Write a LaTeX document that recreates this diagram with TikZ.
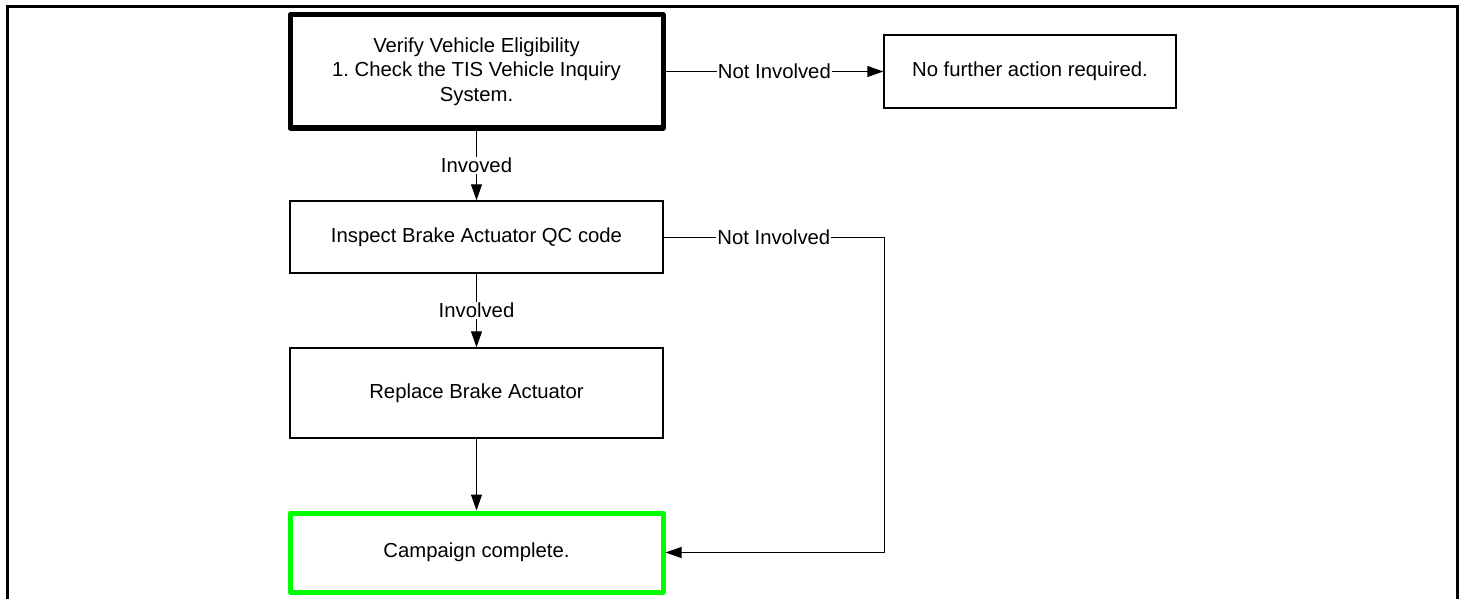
\documentclass[tikz,border=0pt]{standalone}
\usepackage{fontspec}
\setmainfont{Liberation Sans}
\usetikzlibrary{arrows.meta}
\tikzset{
  box/.style={draw=black, line width=1.4pt, fill=white, align=center, inner sep=0pt,
    minimum width=373pt, font=\fontsize{20.3}{24.5}\selectfont},
  startbox/.style={box, line width=5pt, line join=round},
  endbox/.style={box, draw={rgb,255:red,0;green,255;blue,0}, line width=5pt, line join=round},
  arr/.style={draw=black, line width=1pt, -{Triangle[length=16pt,width=11pt]}},
  lbl/.style={fill=white, inner sep=1pt, font=\fontsize{20.3}{24}\selectfont}
}
\begin{document}
\begin{tikzpicture}[x=1pt,y=-1pt]
\useasboundingbox (0,0) rectangle (1463,599);
\draw[line width=3pt] (7,600) -- (7,7) -- (1457,7) -- (1457,600);

\node[startbox, minimum height=113pt] (verify) at (476.5,71.5)
  {Verify Vehicle Eligibility\\1.\ Check the TIS Vehicle Inquiry\\System.};
\node[box, minimum width=292pt, minimum height=73pt] (nofurther) at (1030,71.5)
  {No further action required.};
\node[box, minimum height=72pt] (inspect) at (476.5,237)
  {Inspect Brake Actuator QC code};
\node[box, minimum height=90pt] (replace) at (476.5,393)
  {Replace Brake Actuator};
\node[endbox, minimum height=79pt] (complete) at (476.5,552.5)
  {Campaign complete.};
\coordinate (turn) at (884,237);

\draw[arr] (verify.east |- nofurther.west) -- node[lbl]{Not Involved} (nofurther.west);
\draw[arr] (verify.south) -- node[lbl]{Invoved} (inspect.north);
\draw[arr] (inspect.south) -- node[lbl]{Involved} (replace.north);
\draw[arr] (replace.south) -- (complete.north);
\draw[arr] (inspect.east) -- node[lbl]{Not Involved} (turn) |- (complete.east);
\end{tikzpicture}
\end{document}
